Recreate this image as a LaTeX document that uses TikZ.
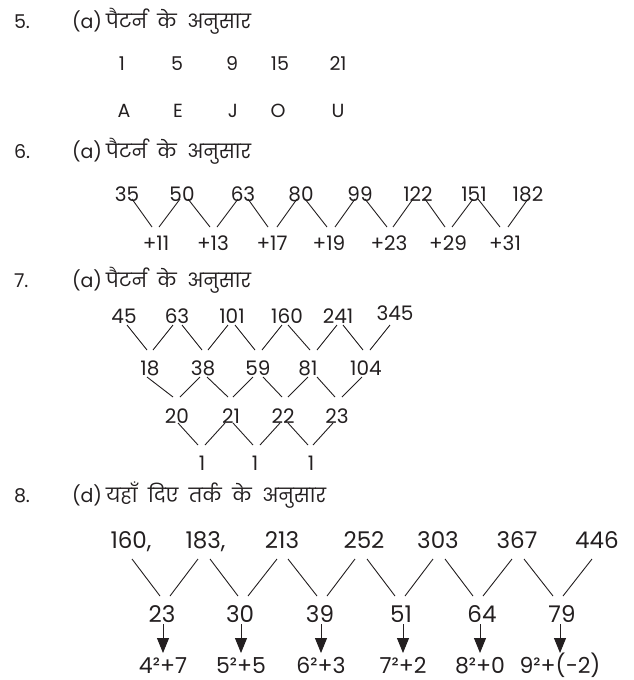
\documentclass[tikz,border=0pt]{standalone}
\usepackage{fontspec}
\setmainfont{Poppins}
\newfontfamily\hindi[Script=Devanagari]{Poppins}
\usetikzlibrary{calc,arrows.meta}
\definecolor{ink}{RGB}{35,31,32}
\newcommand\lnk[6]{\draw[ln] ($(#1.base)+(#2,#3)$) -- ($(#4.base)+(#5,#6)$);}
\newcommand\hs{\hspace{10.5pt}}
\newcommand\hin[1]{{\hindi\fontsize{19.5}{22}\selectfont #1}}
\begin{document}
\begin{tikzpicture}[x=1pt,y=-1pt,
  every node/.style={inner sep=0pt,outer sep=0pt,text=ink},
  ttl/.style={anchor=base west,font=\fontsize{19}{22}\selectfont},
  nA/.style={anchor=base,font=\fontsize{19}{22}\selectfont},
  nB/.style={anchor=base,font=\fontsize{20}{24}\selectfont},
  nC/.style={anchor=base,font=\fontsize{23}{26}\selectfont},
  nD/.style={anchor=base,font=\fontsize{22}{26}\selectfont},
  ln/.style={draw=ink,line width=0.9pt},
  arr/.style={draw=ink,line width=0.9pt,-{Triangle[width=12pt,length=15pt]}}]
\useasboundingbox (0,0) rectangle (633,680);
% ---------- 5 ----------
\node[ttl] (q5) at (14,28) {5.};
\node[ttl] (h5) at (72,28) {(a)\hspace{4pt}\hin{पैटर्न\hs के\hs अनुसार}};
\node[nA] (a1) at (122,70) {1};
\node[nA] (a2) at (177,70) {5};
\node[nA] (a3) at (232,70) {9};
\node[nA] (a4) at (280,70) {15};
\node[nA] (a5) at (338,70) {21};
\node[nA] (l1) at (124,117) {A};
\node[nA] (l2) at (178,117) {E};
\node[nA] (l3) at (233,117) {J};
\node[nA] (l4) at (278,117) {O};
\node[nA] (l5) at (338,117) {U};
% ---------- 6 ----------
\node[ttl] (q6) at (14,158) {6.};
\node[ttl] (h6) at (72,158) {(a)\hspace{4pt}\hin{पैटर्न\hs के\hs अनुसार}};
\node[nB] (s1) at (127,201) {35};
\node[nB] (s2) at (182,201) {50};
\node[nB] (s3) at (243,201) {63};
\node[nB] (s4) at (301,201) {80};
\node[nB] (s5) at (360,201) {99};
\node[nB] (s6) at (418,201) {122};
\node[nB] (s7) at (474,201) {151};
\node[nB] (s8) at (528,201) {182};
\node[nB] (d1) at (156,250) {+11};
\node[nB] (d2) at (213,250) {+13};
\node[nB] (d3) at (272,250) {+17};
\node[nB] (d4) at (329,250) {+19};
\node[nB] (d5) at (389,250) {+23};
\node[nB] (d6) at (448,250) {+29};
\node[nB] (d7) at (505,250) {+31};
\lnk{s1}{5}{-2}{d1}{-4}{-23}
\lnk{s2}{6}{-2}{d2}{-3}{-23}
\lnk{s3}{5}{-2}{d3}{-4}{-23}
\lnk{s4}{4}{-2}{d4}{-2}{-23}
\lnk{s5}{5}{-2}{d5}{-2}{-23}
\lnk{s6}{7}{-2}{d6}{-3}{-23}
\lnk{s7}{4}{-2}{d7}{-5}{-23}
\lnk{d1}{3}{-23}{s2}{-2}{-2}
\lnk{d2}{4}{-23}{s3}{-5}{-2}
\lnk{d3}{5}{-23}{s4}{-4}{-2}
\lnk{d4}{6}{-23}{s5}{-5}{-2}
\lnk{d5}{4}{-23}{s6}{-5}{-2}
\lnk{d6}{4}{-23}{s7}{-1}{-2}
\lnk{d7}{3}{-23}{s8}{0}{-2}
% ---------- 7 ----------
\node[ttl] (q7) at (14,287) {7.};
\node[ttl] (h7) at (72,287) {(a)\hspace{4pt}\hin{पैटर्न\hs के\hs अनुसार}};
\node[nB] (r1) at (124,323) {45};
\node[nB] (r2) at (177,323) {63};
\node[nB] (r3) at (232,323) {101};
\node[nB] (r4) at (287,323) {160};
\node[nB] (r5) at (338,323) {241};
\node[nB] (r6) at (395,320) {345};
\node[nB] (p1) at (150,375) {18};
\node[nB] (p2) at (203,375) {38};
\node[nB] (p3) at (258,375) {59};
\node[nB] (p4) at (308,375) {81};
\node[nB] (p5) at (366,375) {104};
\node[nB] (u1) at (177,423) {20};
\node[nB] (u2) at (231,423) {21};
\node[nB] (u3) at (283,423) {22};
\node[nB] (u4) at (337,423) {23};
\node[nB] (o1) at (202,470) {1};
\node[nB] (o2) at (255,470) {1};
\node[nB] (o3) at (311,470) {1};
\lnk{r1}{3}{2}{p1}{-3}{-25}
\lnk{r2}{5}{2}{p2}{-1}{-25}
\lnk{r3}{3}{2}{p3}{-3}{-25}
\lnk{r4}{1}{2}{p4}{2}{-25}
\lnk{r5}{5}{2}{p5}{-3}{-25}
\lnk{p1}{3}{-25}{r2}{-4}{2}
\lnk{p2}{5}{-25}{r3}{-4}{2}
\lnk{p3}{4}{-25}{r4}{-5}{2}
\lnk{p4}{9}{-25}{r5}{-1}{2}
\lnk{p5}{4}{-25}{r6}{-5}{5}
\lnk{p1}{-3}{2}{u1}{-4}{-26}
\lnk{p2}{4}{2}{u2}{-3}{-26}
\lnk{p3}{5}{2}{u3}{-1}{-26}
\lnk{p4}{9}{2}{u4}{-2}{-26}
\lnk{u1}{3}{-26}{p2}{-3}{2}
\lnk{u2}{2}{-26}{p3}{-5}{2}
\lnk{u3}{5}{-26}{p4}{0}{2}
\lnk{u4}{5}{-26}{p5}{-4}{2}
\lnk{u1}{1}{0}{o1}{-4}{-25}
\lnk{u2}{2}{0}{o2}{-2}{-25}
\lnk{u3}{5}{0}{o3}{-3}{-25}
\lnk{o1}{3}{-25}{u2}{-6}{0}
\lnk{o2}{5}{-25}{u3}{-3}{0}
\lnk{o3}{2}{-25}{u4}{-4}{0}
% ---------- 8 ----------
\node[ttl] (q8) at (14,502) {8.};
\node[ttl] (h8) at (72,502) {(d)\hspace{4pt}\hin{यहाँ\hs दिए\hs तर्क\hs के\hs अनुसार}};
\node[nC] (t1) at (131,548) {160,};
\node[nC] (t2) at (205.5,548) {183,};
\node[nC] (t3) at (282,548) {213};
\node[nC] (t4) at (364,548) {252};
\node[nC] (t5) at (438,548) {303};
\node[nC] (t6) at (517,548) {367};
\node[nC] (t7) at (597,548) {446};
\node[nC] (m1) at (162,622) {23};
\node[nC] (m2) at (240,622) {30};
\node[nC] (m3) at (320,622) {39};
\node[nC] (m4) at (401,622) {51};
\node[nC] (m5) at (482,622) {64};
\node[nC] (m6) at (562,622) {79};
\node[nD] (b1) at (163,673) {4²+7};
\node[nD] (b2) at (241,673) {5²+5};
\node[nD] (b3) at (321,673) {6²+3};
\node[nD] (b4) at (403,673) {7²+2};
\node[nD] (b5) at (480,673) {8²+0};
\node[nD] (b6) at (560,673) {9²+(−2)};
\lnk{t1}{1}{11}{m1}{-2}{-26}
\lnk{t2}{4.5}{11}{m2}{-2}{-26}
\lnk{t3}{6}{11}{m3}{-3}{-26}
\lnk{t4}{3}{11}{m4}{-6}{-26}
\lnk{t5}{7}{11}{m5}{-9}{-26}
\lnk{t6}{7}{11}{m6}{-9}{-26}
\lnk{m1}{8}{-26}{t2}{-7.5}{11}
\lnk{m2}{8}{-26}{t3}{-5}{11}
\lnk{m3}{7}{-26}{t4}{-9}{11}
\lnk{m4}{4}{-26}{t5}{-5}{11}
\lnk{m5}{1}{-26}{t6}{-5}{11}
\lnk{m6}{1}{-26}{t7}{-5}{11}
\foreach \i in {1,...,6}{
  \draw[arr] ($(m\i.base -| b\i.base)+(0,2)$) -- ($(b\i.base)+(0,-20)$);
}
\end{tikzpicture}
\end{document}
